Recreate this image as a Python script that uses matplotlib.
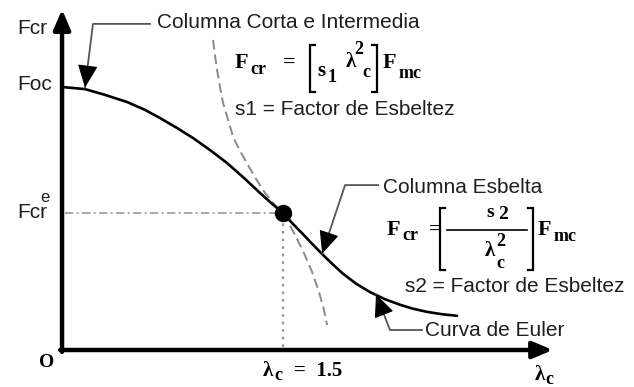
import matplotlib.pyplot as plt

plt.rcParams['font.family'] = ['Liberation Sans', 'DejaVu Sans']

# Column strength curve: slenderness lambda_c vs Fcr / Foc
lam_main = [0.000, 0.156, 0.292, 0.441, 0.563, 0.665, 0.781, 0.889, 1.005, 1.120,
            1.235, 1.344, 1.425, 1.500, 1.561, 1.636, 1.697, 1.765, 1.833, 1.907,
            1.996, 2.091, 2.192, 2.294, 2.382, 2.477, 2.579, 2.681]
fcr_main = [1.000, 0.992, 0.970, 0.943, 0.913, 0.882, 0.844, 0.806, 0.760, 0.711,
            0.654, 0.597, 0.556, 0.521, 0.483, 0.440, 0.404, 0.365, 0.328, 0.290,
            0.252, 0.220, 0.193, 0.172, 0.157, 0.145, 0.136, 0.130]

# Euler curve carried on above the limit point (dashed)
lam_euler_ext = [1.025, 1.038, 1.052, 1.072, 1.093, 1.127, 1.161, 1.208, 1.262,
                 1.317, 1.378, 1.439, 1.500]
fcr_euler_ext = [1.179, 1.122, 1.065, 1.000, 0.939, 0.875, 0.810, 0.757, 0.703,
                 0.650, 0.597, 0.555, 0.521]

# inelastic curve carried on past the limit point (dashed)
lam_inel_ext = [1.500, 1.568, 1.636, 1.697, 1.744, 1.778, 1.799]
fcr_inel_ext = [0.521, 0.452, 0.376, 0.297, 0.221, 0.152, 0.095]

lam_c = 1.5
fcr_e = 0.521

fig = plt.figure(figsize=(6.34, 3.87), dpi=100)
ax = fig.add_axes([0, 0, 1, 1])
ax.set_xlim(-0.421, 3.882)
ax.set_ylim(-0.1407, 1.3308)
ax.axis('off')

txt = '#1e1e1e'
lead = '#555555'

# axes with arrow heads
axis_arrow = dict(arrowstyle='-|>,head_length=0.75,head_width=0.32', lw=3.2,
                  color='black', shrinkA=0, shrinkB=0, mutation_scale=16)
ax.annotate('', xy=(3.33, 0), xytext=(-0.012, 0), arrowprops=axis_arrow)
ax.annotate('', xy=(0, 1.295), xytext=(0, -0.007), arrowprops=axis_arrow)

# guide lines to the limit point
ax.plot([0.02, lam_c], [fcr_e, fcr_e], color='#999999', lw=1.2,
        linestyle=(0, (5, 2, 1.2, 2)))
ax.plot([lam_c, lam_c], [0.01, fcr_e], color='#999999', lw=1.6,
        linestyle=(0, (1.2, 2.2)))

# curves
ax.plot(lam_euler_ext, fcr_euler_ext, color='#8a8a8a', lw=1.4, dashes=(5, 2.5))
ax.plot(lam_inel_ext, fcr_inel_ext, color='#8a8a8a', lw=1.4, dashes=(5, 2.5))
ax.plot(lam_main, fcr_main, color='black', lw=1.9, solid_capstyle='round')
ax.plot([lam_c], [fcr_e], 'o', color='black', ms=11.5)


def leader(pts, tip):
    # gray elbow line ending in a black arrow head
    xs = [p[0] for p in pts] + [tip[0]]
    ys = [p[1] for p in pts] + [tip[1]]
    ax.plot(xs, ys, color=lead, lw=1.3)
    bx = pts[-1][0] + 0.75 * (tip[0] - pts[-1][0])
    by = pts[-1][1] + 0.75 * (tip[1] - pts[-1][1])
    ax.annotate('', xy=tip, xytext=(bx, by),
                arrowprops=dict(arrowstyle='-|>,head_length=0.9,head_width=0.4',
                                color='black', lw=0.8, shrinkA=0, shrinkB=0,
                                mutation_scale=16))


leader([(0.597, 1.240), (0.210, 1.240)], (0.156, 0.998))
leader([(2.145, 0.627), (1.921, 0.627)], (1.765, 0.366))
leader([(2.443, 0.076), (2.226, 0.076)], (2.131, 0.212))

fs = 15
ax.text(-0.305, 1.224, 'Fcr', fontsize=fs, color=txt, ha='left', va='center')
ax.text(-0.305, 1.008, 'Foc', fontsize=fs, color=txt, ha='left', va='center')
ax.text(-0.305, fcr_e, 'Fcr', fontsize=fs, color=txt, ha='left', va='center')
ax.text(-0.148, fcr_e + 0.058, 'e', fontsize=12, color=txt, ha='left', va='center')

serif = dict(family='Liberation Serif', weight='bold', color='black')
ax.text(-0.102, -0.049, 'O', fontsize=14, ha='center', va='center', **serif)
ax.text(1.364, -0.078, 'λ', fontsize=15, ha='left', va='center', **serif)
ax.text(1.440, -0.098, 'c', fontsize=13, ha='left', va='center', **serif)
ax.text(1.575, -0.078, '=  1.5', fontsize=15, ha='left', va='center', **serif)
ax.text(3.21, -0.094, 'λ', fontsize=15, ha='left', va='center', **serif)
ax.text(3.28, -0.112, 'c', fontsize=13, ha='left', va='center', **serif)


def bracket(x, y0, y1, side):
    # square bracket drawn as three strokes
    d = 0.035 if side == 'left' else -0.035
    ax.plot([x + d, x, x, x + d], [y1, y1, y0, y0], color='black', lw=1.6,
            solid_joinstyle='miter')


ax.text(0.645, 1.247, 'Columna Corta e Intermedia', fontsize=fs, color=txt,
        ha='left', va='center')

# Fcr = [s1 lambda_c^2] Fmc
ax.text(1.174, 1.091, 'F', fontsize=16, ha='left', va='center', **serif)
ax.text(1.278, 1.068, 'cr', fontsize=13, ha='left', va='center', **serif)
ax.text(1.500, 1.091, '=', fontsize=16, ha='left', va='center', **serif)
bracket(1.683, 0.981, 1.160, 'left')
ax.text(1.731, 1.060, 's', fontsize=15, ha='left', va='center', **serif)
ax.text(1.805, 1.038, '1', fontsize=13, ha='left', va='center', **serif)
ax.text(1.928, 1.095, 'λ', fontsize=15, ha='left', va='center', **serif)
ax.text(1.985, 1.141, '2', fontsize=13, ha='left', va='center', **serif)
ax.text(2.040, 1.057, 'c', fontsize=13, ha='left', va='center', **serif)
bracket(2.138, 0.981, 1.160, 'right')
ax.text(2.175, 1.091, 'F', fontsize=16, ha='left', va='center', **serif)
ax.text(2.285, 1.050, 'mc', fontsize=13, ha='left', va='center', **serif)

ax.text(1.174, 0.916, 's1 = Factor de Esbeltez', fontsize=fs, color=txt,
        ha='left', va='center')

ax.text(2.179, 0.616, 'Columna Esbelta', fontsize=fs, color=txt,
        ha='left', va='center')

# Fcr = [s2 / lambda_c^2] Fmc
ax.text(2.206, 0.456, 'F', fontsize=16, ha='left', va='center', **serif)
ax.text(2.310, 0.434, 'cr', fontsize=13, ha='left', va='center', **serif)
ax.text(2.490, 0.456, '=', fontsize=16, ha='left', va='center', **serif)
bracket(2.566, 0.304, 0.540, 'left')
ax.plot([2.613, 3.156], [0.456, 0.456], color='black', lw=1.2)
ax.text(2.880, 0.521, 's', fontsize=14, ha='left', va='center', **serif)
ax.text(2.960, 0.515, '2', fontsize=14, ha='left', va='center', **serif)
ax.text(2.866, 0.378, 'λ', fontsize=15, ha='left', va='center', **serif)
ax.text(2.950, 0.412, '2', fontsize=13, ha='left', va='center', **serif)
ax.text(2.950, 0.330, 'c', fontsize=13, ha='left', va='center', **serif)
bracket(3.197, 0.304, 0.540, 'right')
ax.text(3.231, 0.456, 'F', fontsize=16, ha='left', va='center', **serif)
ax.text(3.338, 0.430, 'mc', fontsize=13, ha='left', va='center', **serif)

ax.text(2.328, 0.240, 's2 = Factor de Esbeltez', fontsize=fs, color=txt,
        ha='left', va='center')
ax.text(2.464, 0.076, 'Curva de Euler', fontsize=fs, color=txt,
        ha='left', va='center')

fig.savefig('out.png', dpi=100, facecolor='white')
